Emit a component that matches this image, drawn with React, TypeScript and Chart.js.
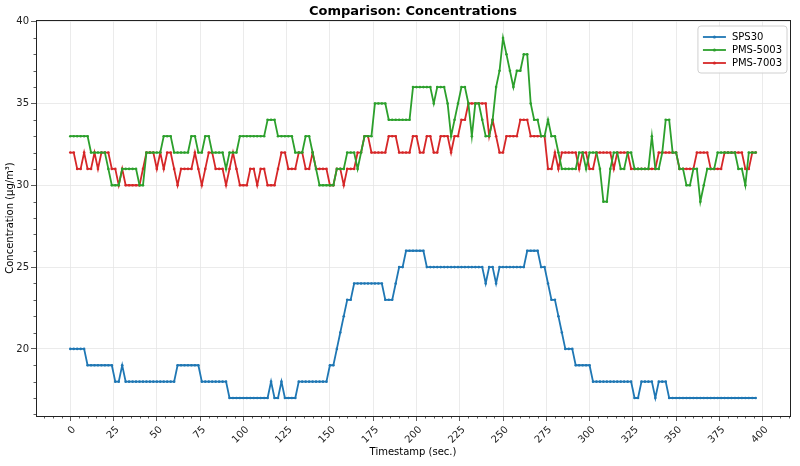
import { useEffect, useRef } from "react";
import { Chart, registerables } from "chart.js";

Chart.register(...registerables);

const TITLE = "Comparison: Concentrations";
const X_LABEL = "Timestamp (sec.)";
const Y_LABEL = "Concentration (µg/m³)";
const SAMPLE_STEP_SEC = 2;
const X_TICKS = [0, 25, 50, 75, 100, 125, 150, 175, 200, 225, 250, 275, 300, 325, 350, 375, 400];
const Y_TICKS = [20, 25, 30, 35, 40];
const SERIES_LABELS = ["SPS30", "PMS-5003", "PMS-7003"];
const SERIES_COLORS = ["#1f77b4", "#2ca02c", "#d62728"];

const SPS30 = [
  20, 20, 20, 20, 20, 19, 19, 19, 19, 19,
  19, 19, 19, 18, 18, 19, 18, 18, 18, 18,
  18, 18, 18, 18, 18, 18, 18, 18, 18, 18,
  18, 19, 19, 19, 19, 19, 19, 19, 18, 18,
  18, 18, 18, 18, 18, 18, 17, 17, 17, 17,
  17, 17, 17, 17, 17, 17, 17, 17, 18, 17,
  17, 18, 17, 17, 17, 17, 18, 18, 18, 18,
  18, 18, 18, 18, 18, 19, 19, 20, 21, 22,
  23, 23, 24, 24, 24, 24, 24, 24, 24, 24,
  24, 23, 23, 23, 24, 25, 25, 26, 26, 26,
  26, 26, 26, 25, 25, 25, 25, 25, 25, 25,
  25, 25, 25, 25, 25, 25, 25, 25, 25, 25,
  24, 25, 25, 24, 25, 25, 25, 25, 25, 25,
  25, 25, 26, 26, 26, 26, 25, 25, 24, 23,
  23, 22, 21, 20, 20, 20, 19, 19, 19, 19,
  19, 18, 18, 18, 18, 18, 18, 18, 18, 18,
  18, 18, 18, 17, 17, 18, 18, 18, 18, 17,
  18, 18, 18, 17, 17, 17, 17, 17, 17, 17,
  17, 17, 17, 17, 17, 17, 17, 17, 17, 17,
  17, 17, 17, 17, 17, 17, 17, 17, 17,
];

const PMS5003 = [
  33, 33, 33, 33, 33, 33, 32, 32, 32, 32,
  32, 31, 30, 30, 30, 31, 31, 31, 31, 31,
  30, 30, 32, 32, 32, 32, 32, 33, 33, 33,
  32, 32, 32, 32, 32, 33, 33, 32, 32, 33,
  33, 32, 32, 32, 32, 31, 32, 32, 32, 33,
  33, 33, 33, 33, 33, 33, 33, 34, 34, 34,
  33, 33, 33, 33, 33, 32, 32, 32, 33, 33,
  32, 31, 30, 30, 30, 30, 30, 31, 31, 31,
  32, 32, 32, 31, 32, 33, 33, 33, 35, 35,
  35, 35, 34, 34, 34, 34, 34, 34, 34, 36,
  36, 36, 36, 36, 36, 35, 36, 36, 36, 35,
  33, 34, 35, 36, 36, 35, 33, 35, 35, 34,
  33, 33, 34, 36, 37, 39, 38, 37, 36, 37,
  37, 38, 38, 35, 34, 34, 33, 33, 34, 33,
  33, 32, 31, 31, 31, 31, 31, 32, 32, 31,
  32, 32, 32, 31, 29, 29, 31, 32, 32, 31,
  31, 32, 32, 31, 31, 31, 31, 31, 33, 31,
  31, 32, 34, 34, 32, 32, 31, 31, 30, 30,
  31, 31, 29, 30, 31, 31, 31, 32, 32, 32,
  32, 32, 32, 31, 31, 30, 32, 32, 32,
];

const PMS7003 = [
  32, 32, 31, 31, 32, 31, 31, 32, 31, 32,
  32, 32, 31, 31, 30, 31, 30, 30, 30, 30,
  30, 31, 32, 32, 32, 31, 32, 31, 32, 32,
  31, 30, 31, 31, 31, 31, 32, 31, 30, 31,
  32, 32, 31, 31, 31, 30, 31, 32, 31, 30,
  30, 30, 31, 31, 30, 31, 31, 30, 30, 30,
  31, 32, 32, 31, 31, 31, 32, 32, 31, 31,
  32, 31, 31, 31, 31, 30, 30, 31, 31, 30,
  31, 31, 31, 32, 32, 33, 33, 32, 32, 32,
  32, 32, 33, 33, 33, 32, 32, 32, 32, 33,
  33, 32, 32, 33, 33, 32, 32, 33, 33, 33,
  32, 33, 33, 34, 34, 35, 35, 35, 35, 35,
  35, 33, 34, 33, 32, 32, 33, 33, 33, 33,
  34, 34, 34, 33, 33, 33, 33, 33, 31, 31,
  32, 31, 32, 32, 32, 32, 32, 31, 32, 32,
  31, 31, 32, 32, 32, 32, 32, 31, 32, 32,
  32, 32, 31, 31, 31, 31, 31, 31, 31, 31,
  32, 32, 32, 32, 32, 32, 31, 31, 31, 31,
  31, 32, 32, 32, 32, 31, 31, 31, 31, 32,
  32, 32, 32, 32, 32, 31, 31, 32, 32,
];

const SERIES = [SPS30, PMS5003, PMS7003];

const FONT = "'DejaVu Sans', 'Liberation Sans', sans-serif";

const framePlugin = {
  id: "mplFrame",
  afterDraw(chart: any) {
    const { ctx, chartArea } = chart;
    const xs = chart.scales.x;
    const ys = chart.scales.y;
    ctx.save();
    ctx.strokeStyle = "#333";
    ctx.lineWidth = 0.8;
    ctx.beginPath();
    for (let v = -15; v <= 415; v += 5) {
      if (v % 25 === 0) continue;
      const px = Math.round(xs.getPixelForValue(v)) + 0.5;
      ctx.moveTo(px, chartArea.bottom);
      ctx.lineTo(px, chartArea.bottom + 2.5);
    }
    for (let v = 16; v <= 40; v += 1) {
      if (v % 5 === 0) continue;
      const py = Math.round(ys.getPixelForValue(v)) + 0.5;
      ctx.moveTo(chartArea.left, py);
      ctx.lineTo(chartArea.left - 2.5, py);
    }
    ctx.stroke();
    ctx.strokeStyle = "#222";
    ctx.lineWidth = 1;
    ctx.strokeRect(
      Math.round(chartArea.left) + 0.5,
      Math.round(chartArea.top) + 0.5,
      Math.round(chartArea.right - chartArea.left),
      Math.round(chartArea.bottom - chartArea.top)
    );
    ctx.fillStyle = "#000";
    ctx.font = `bold 13px ${FONT}`;
    ctx.textAlign = "center";
    ctx.textBaseline = "middle";
    ctx.fillText(TITLE, (chartArea.left + chartArea.right) / 2, 12);

    const ds = chart.data.datasets;
    ctx.font = `10px ${FONT}`;
    const textW = Math.max(...ds.map((d: any) => ctx.measureText(d.label).width));
    const rowH = 13;
    const handle = 23;
    const w = 5 + handle + 6 + textW + 5;
    const h = 8 + rowH * ds.length;
    const x = chartArea.right - 3 - w;
    const y = chartArea.top + 6;
    const r = 3;
    ctx.beginPath();
    ctx.moveTo(x + r, y);
    ctx.lineTo(x + w - r, y);
    ctx.arcTo(x + w, y, x + w, y + r, r);
    ctx.lineTo(x + w, y + h - r);
    ctx.arcTo(x + w, y + h, x + w - r, y + h, r);
    ctx.lineTo(x + r, y + h);
    ctx.arcTo(x, y + h, x, y + h - r, r);
    ctx.lineTo(x, y + r);
    ctx.arcTo(x, y, x + r, y, r);
    ctx.closePath();
    ctx.fillStyle = "rgba(255,255,255,0.85)";
    ctx.fill();
    ctx.strokeStyle = "#d0d0d0";
    ctx.lineWidth = 1;
    ctx.stroke();
    ds.forEach((d: any, i: number) => {
      const cy = y + 4 + rowH * i + rowH / 2 + 0.5;
      ctx.strokeStyle = d.borderColor;
      ctx.lineWidth = 1.8;
      ctx.beginPath();
      ctx.moveTo(x + 5, cy);
      ctx.lineTo(x + 5 + handle, cy);
      ctx.stroke();
      ctx.fillStyle = d.borderColor;
      ctx.beginPath();
      ctx.arc(x + 5 + handle / 2, cy, 1.6, 0, Math.PI * 2);
      ctx.fill();
      ctx.fillStyle = "#000";
      ctx.textAlign = "left";
      ctx.textBaseline = "middle";
      ctx.fillText(d.label, x + 5 + handle + 6, cy);
    });
    ctx.restore();
  },
};

export default function App() {
  const canvasRef = useRef<HTMLCanvasElement | null>(null);

  useEffect(() => {
    if (!canvasRef.current) return;
    const datasets = SERIES.map((values, si) => ({
      label: SERIES_LABELS[si],
      data: values.map((v, i) => ({ x: i * SAMPLE_STEP_SEC, y: v })),
      borderColor: SERIES_COLORS[si],
      backgroundColor: SERIES_COLORS[si],
      borderWidth: 1.8,
      pointRadius: 1.3,
      pointHoverRadius: 1.3,
      pointBorderWidth: 0,
      tension: 0,
      fill: false,
    }));

    const chart = new Chart(canvasRef.current, {
      type: "line",
      data: { datasets },
      plugins: [framePlugin],
      options: {
        animation: false,
        responsive: false,
        devicePixelRatio: 1,
        events: [],
        layout: { padding: { left: 0, right: 10, top: 20, bottom: 0 } },
        plugins: {
          legend: { display: false },
          title: { display: false },
          tooltip: { enabled: false },
        },
        scales: {
          x: {
            type: "linear",
            min: -19.8,
            max: 415.8,
            afterBuildTicks: (scale: any) => {
              scale.ticks = X_TICKS.map((v) => ({ value: v }));
            },
            afterFit: (scale: any) => {
              scale.height = 50;
            },
            border: { display: false },
            grid: {
              color: "#e6e6e6",
              lineWidth: 0.8,
              tickColor: "#333",
              tickLength: 5,
              tickWidth: 0.8,
            },
            ticks: {
              minRotation: 45,
              maxRotation: 45,
              autoSkip: false,
              labelOffset: 4,
              padding: 3,
              color: "#222",
              font: { family: FONT, size: 10 },
              callback: (v: any) => String(v),
            },
            title: {
              display: true,
              text: X_LABEL,
              color: "#000",
              font: { family: FONT, size: 10 },
              padding: { top: 0, bottom: 8 },
            },
          },
          y: {
            type: "linear",
            min: 15.9,
            max: 40.1,
            afterBuildTicks: (scale: any) => {
              scale.ticks = Y_TICKS.map((v) => ({ value: v }));
            },
            afterFit: (scale: any) => {
              scale.width = 36;
            },
            border: { display: false },
            grid: {
              color: "#e6e6e6",
              lineWidth: 0.8,
              tickColor: "#333",
              tickLength: 5,
              tickWidth: 0.8,
            },
            ticks: {
              padding: 2,
              color: "#222",
              font: { family: FONT, size: 10 },
              callback: (v: any) => String(v),
            },
            title: {
              display: true,
              text: Y_LABEL,
              color: "#000",
              font: { family: FONT, size: 10 },
              padding: { top: 4, bottom: 0 },
            },
          },
        },
      },
    });
    return () => chart.destroy();
  }, []);

  return (
    <div style={{ position: "fixed", left: 0, top: 0, width: 800, height: 466, background: "#fff" }}>
      <canvas ref={canvasRef} width={800} height={466} style={{ width: 800, height: 466, display: "block" }} />
    </div>
  );
}
